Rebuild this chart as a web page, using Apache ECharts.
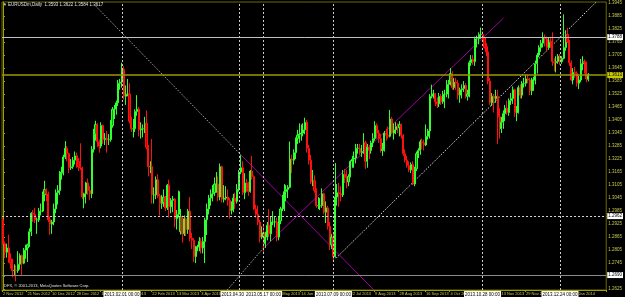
<!DOCTYPE html>
<html><head><meta charset="utf-8">
<script src="https://cdn.jsdelivr.net/npm/echarts@6/dist/echarts.min.js"></script>
<style>html,body{margin:0;padding:0;background:#000;}#c{width:625px;height:297px;}</style>
</head><body><div id="c"></div>
<script>
// EURUSDm Daily, 2 Nov 2012 .. 16 Jan 2014 (one entry per trading day)
const opens = [
1.2945,1.2835,1.2795,1.2815,1.2765,1.2745,1.2710,1.2712,1.2710,1.2740,
1.2780,1.2745,1.2805,1.2815,1.2830,1.2890,1.2975,1.2970,1.2945,1.2945,
1.2985,1.2985,1.3060,1.3085,1.3065,1.2945,1.2925,1.2935,1.2995,1.3070,
1.3080,1.3160,1.3165,1.3235,1.3275,1.3250,1.3185,1.3190,1.3220,1.3240,
1.3215,1.3190,1.3185,1.3050,1.3065,1.3115,1.3080,1.3065,1.3270,1.3340,
1.3385,1.3305,1.3285,1.3380,1.3315,1.3320,1.3315,1.3315,1.3380,1.3455,
1.3455,1.3485,1.3575,1.3580,1.3640,1.3515,1.3525,1.3525,1.3400,1.3365,
1.3365,1.3445,1.3455,1.3360,1.3365,1.3365,1.3390,1.3280,1.3190,1.3190,
1.3060,1.3060,1.3130,1.3055,1.3020,1.3025,1.3050,1.3000,1.3105,1.3005,
1.3035,1.3040,1.2950,1.2970,1.2890,1.2960,1.2880,1.2950,1.2900,1.2985,
1.2860,1.2850,1.2775,1.2820,1.2820,1.2845,1.2815,1.2845,1.2945,1.2995,
1.3045,1.3065,1.3070,1.3110,1.3110,1.3050,1.3190,1.3040,1.3045,1.3050,
1.3035,1.2990,1.2990,1.3045,1.3030,1.3085,1.3165,1.3185,1.3070,1.3115,
1.3090,1.3075,1.3170,1.3145,1.2995,1.2970,1.2935,1.2865,1.2885,1.2835,
1.2865,1.2920,1.2880,1.2935,1.2935,1.2935,1.2865,1.2940,1.2995,1.2995,
1.3075,1.3085,1.3095,1.3225,1.3220,1.3255,1.3320,1.3335,1.3340,1.3345,
1.3360,1.3395,1.3275,1.3220,1.3120,1.3125,1.3080,1.3010,1.3010,1.3010,
1.3065,1.2980,1.3000,1.2915,1.2830,1.2865,1.2775,1.3050,1.3070,1.3065,
1.3060,1.3155,1.3140,1.3120,1.3145,1.3215,1.3225,1.3230,1.3275,1.3275,
1.3255,1.3260,1.3300,1.3215,1.3280,1.3265,1.3300,1.3320,1.3380,1.3345,
1.3320,1.3265,1.3270,1.3345,1.3335,1.3330,1.3410,1.3345,1.3360,1.3375,
1.3370,1.3385,1.3335,1.3250,1.3220,1.3195,1.3175,1.3200,1.3110,1.3180,
1.3250,1.3265,1.3305,1.3300,1.3290,1.3330,1.3355,1.3515,1.3525,1.3525,
1.3490,1.3480,1.3515,1.3490,1.3525,1.3525,1.3570,1.3580,1.3620,1.3555,
1.3580,1.3575,1.3520,1.3545,1.3550,1.3565,1.3515,1.3525,1.3670,1.3685,
1.3675,1.3780,1.3780,1.3800,1.3800,1.3785,1.3740,1.3720,1.3585,1.3485,
1.3515,1.3505,1.3515,1.3420,1.3365,1.3395,1.3435,1.3460,1.3440,1.3495,
1.3505,1.3545,1.3440,1.3440,1.3555,1.3520,1.3575,1.3575,1.3595,1.3590,
1.3540,1.3590,1.3590,1.3665,1.3705,1.3740,1.3760,1.3785,1.3780,1.3740,
1.3770,1.3765,1.3675,1.3670,1.3675,1.3700,1.3675,1.3690,1.3740,1.3800,
1.3765,1.3670,1.3590,1.3625,1.3620,1.3575,1.3590,1.3665,1.3675,1.3670,1.3593];
const highs = [
1.2955,1.2845,1.2835,1.2876,1.2790,1.2765,1.2740,1.2735,1.2800,1.2790,
1.2785,1.2815,1.2830,1.2835,1.2905,1.2980,1.2990,1.3000,1.2955,1.3000,
1.3020,1.3075,1.3125,1.3090,1.3075,1.2960,1.2945,1.3020,1.3085,1.3105,
1.3170,1.3190,1.3245,1.3308,1.3285,1.3255,1.3225,1.3235,1.3260,1.3255,
1.3230,1.3298,1.3190,1.3070,1.3120,1.3135,1.3100,1.3285,1.3365,1.3402,
1.3390,1.3315,1.3395,1.3385,1.3345,1.3355,1.3340,1.3405,1.3465,1.3475,
1.3495,1.3590,1.3595,1.3670,1.3655,1.3565,1.3595,1.3575,1.3420,1.3410,
1.3455,1.3520,1.3465,1.3395,1.3385,1.3420,1.3450,1.3290,1.3215,1.3318,
1.3095,1.3145,1.3155,1.3065,1.3060,1.3085,1.3055,1.3110,1.3130,1.3045,
1.3055,1.3045,1.2990,1.3080,1.2995,1.2965,1.2965,1.2955,1.2995,1.3050,
1.2885,1.2860,1.2825,1.2830,1.2865,1.2860,1.2865,1.2955,1.3020,1.3060,
1.3085,1.3105,1.3140,1.3165,1.3145,1.3205,1.3195,1.3105,1.3100,1.3085,
1.3045,1.3030,1.3065,1.3070,1.3110,1.3175,1.3243,1.3215,1.3160,1.3135,
1.3120,1.3175,1.3240,1.3150,1.3015,1.3010,1.2945,1.2915,1.2920,1.2890,
1.2935,1.2995,1.2960,1.2985,1.2960,1.2955,1.2960,1.3005,1.3060,1.3110,
1.3105,1.3105,1.3306,1.3245,1.3270,1.3325,1.3360,1.3390,1.3385,1.3390,
1.3416,1.3405,1.3290,1.3245,1.3175,1.3150,1.3090,1.3050,1.3045,1.3090,
1.3070,1.3030,1.3010,1.2935,1.2880,1.2880,1.3207,1.3110,1.3115,1.3100,
1.3175,1.3180,1.3175,1.3155,1.3220,1.3240,1.3260,1.3295,1.3295,1.3295,
1.3290,1.3345,1.3310,1.3295,1.3290,1.3310,1.3345,1.3400,1.3390,1.3360,
1.3340,1.3300,1.3355,1.3365,1.3375,1.3452,1.3420,1.3390,1.3395,1.3390,
1.3400,1.3390,1.3340,1.3270,1.3240,1.3215,1.3210,1.3215,1.3190,1.3260,
1.3275,1.3315,1.3320,1.3315,1.3385,1.3365,1.3525,1.3568,1.3545,1.3530,
1.3510,1.3530,1.3525,1.3540,1.3545,1.3590,1.3590,1.3645,1.3630,1.3600,
1.3600,1.3590,1.3555,1.3570,1.3585,1.3575,1.3545,1.3680,1.3705,1.3705,
1.3790,1.3795,1.3810,1.3832,1.3815,1.3790,1.3760,1.3745,1.3600,1.3530,
1.3525,1.3545,1.3545,1.3460,1.3420,1.3450,1.3475,1.3495,1.3505,1.3530,
1.3560,1.3550,1.3470,1.3565,1.3570,1.3585,1.3600,1.3615,1.3615,1.3600,
1.3600,1.3605,1.3680,1.3715,1.3750,1.3775,1.3810,1.3800,1.3790,1.3785,
1.3790,1.3810,1.3690,1.3700,1.3710,1.3710,1.3700,1.3893,1.3820,1.3830,
1.3775,1.3680,1.3645,1.3650,1.3630,1.3610,1.3687,1.3700,1.3685,1.3675,1.3622];
const lows = [
1.2830,1.2768,1.2770,1.2747,1.2720,1.2680,1.2685,1.2661,1.2700,1.2715,
1.2690,1.2740,1.2765,1.2750,1.2820,1.2870,1.2935,1.2930,1.2880,1.2935,
1.2965,1.2980,1.3030,1.3030,1.2935,1.2876,1.2880,1.2920,1.2975,1.3015,
1.3060,1.3130,1.3150,1.3225,1.3215,1.3160,1.3175,1.3180,1.3200,1.3185,
1.3170,1.3175,1.3040,1.2998,1.3020,1.3060,1.3035,1.3045,1.3255,1.3310,
1.3280,1.3255,1.3275,1.3295,1.3290,1.3255,1.3290,1.3305,1.3370,1.3410,
1.3430,1.3470,1.3545,1.3555,1.3500,1.3475,1.3515,1.3390,1.3350,1.3325,
1.3350,1.3425,1.3330,1.3320,1.3325,1.3345,1.3270,1.3145,1.3160,1.3020,
1.3020,1.3040,1.3045,1.2965,1.2995,1.3005,1.2985,1.2990,1.2955,1.2975,
1.2980,1.2910,1.2900,1.2955,1.2877,1.2840,1.2870,1.2870,1.2880,1.2845,
1.2810,1.2750,1.2745,1.2800,1.2800,1.2790,1.2790,1.2745,1.2875,1.2970,
1.3010,1.3030,1.3055,1.3070,1.3030,1.3035,1.3025,1.3025,1.3035,1.3010,
1.2950,1.2970,1.2980,1.2995,1.3020,1.3075,1.3155,1.3060,1.3040,1.3075,
1.3055,1.3070,1.3130,1.2990,1.2955,1.2920,1.2840,1.2855,1.2797,1.2815,
1.2850,1.2865,1.2845,1.2920,1.2910,1.2845,1.2850,1.2925,1.2985,1.2985,
1.3030,1.3045,1.3090,1.3160,1.3200,1.3225,1.3295,1.3300,1.3310,1.3330,
1.3340,1.3255,1.3200,1.3110,1.3100,1.3070,1.3000,1.2995,1.2990,1.3000,
1.2970,1.2930,1.2900,1.2805,1.2810,1.2755,1.2770,1.3010,1.3005,1.3030,
1.3050,1.3115,1.3090,1.3100,1.3140,1.3185,1.3185,1.3205,1.3250,1.3245,
1.3235,1.3250,1.3180,1.3185,1.3225,1.3250,1.3280,1.3310,1.3320,1.3300,
1.3255,1.3240,1.3260,1.3310,1.3320,1.3325,1.3340,1.3315,1.3340,1.3345,
1.3330,1.3320,1.3240,1.3210,1.3185,1.3165,1.3160,1.3105,1.3100,1.3170,
1.3230,1.3245,1.3270,1.3265,1.3285,1.3315,1.3320,1.3505,1.3505,1.3470,
1.3460,1.3465,1.3475,1.3480,1.3460,1.3510,1.3505,1.3565,1.3545,1.3545,
1.3545,1.3500,1.3485,1.3505,1.3535,1.3505,1.3495,1.3510,1.3655,1.3660,
1.3655,1.3740,1.3755,1.3780,1.3775,1.3735,1.3700,1.3570,1.3475,1.3470,
1.3440,1.3485,1.3295,1.3320,1.3345,1.3365,1.3400,1.3430,1.3425,1.3475,
1.3480,1.3420,1.3400,1.3435,1.3505,1.3505,1.3555,1.3560,1.3575,1.3520,
1.3520,1.3540,1.3570,1.3620,1.3695,1.3720,1.3740,1.3745,1.3720,1.3730,
1.3740,1.3655,1.3630,1.3625,1.3665,1.3660,1.3665,1.3685,1.3725,1.3760,
1.3655,1.3585,1.3570,1.3600,1.3560,1.3548,1.3580,1.3635,1.3620,1.3580,1.3584];
const closes = [
1.2835,1.2795,1.2815,1.2765,1.2745,1.2710,1.2712,1.2710,1.2740,1.2780,
1.2745,1.2805,1.2815,1.2830,1.2890,1.2975,1.2970,1.2945,1.2945,1.2985,
1.2985,1.3060,1.3085,1.3065,1.2945,1.2925,1.2935,1.2995,1.3070,1.3080,
1.3160,1.3165,1.3235,1.3275,1.3250,1.3185,1.3190,1.3220,1.3240,1.3215,
1.3190,1.3185,1.3050,1.3065,1.3115,1.3080,1.3065,1.3270,1.3340,1.3385,
1.3305,1.3285,1.3380,1.3315,1.3320,1.3315,1.3315,1.3380,1.3455,1.3455,
1.3485,1.3575,1.3580,1.3640,1.3515,1.3525,1.3525,1.3400,1.3365,1.3365,
1.3445,1.3455,1.3360,1.3365,1.3365,1.3390,1.3280,1.3190,1.3190,1.3060,
1.3060,1.3130,1.3055,1.3020,1.3025,1.3050,1.3000,1.3105,1.3005,1.3035,
1.3040,1.2950,1.2970,1.3075,1.2960,1.2880,1.2950,1.2900,1.2985,1.2860,
1.2850,1.2775,1.2820,1.2820,1.2845,1.2815,1.2845,1.2945,1.2995,1.3045,
1.3065,1.3070,1.3110,1.3110,1.3050,1.3190,1.3040,1.3045,1.3050,1.3035,
1.2990,1.2990,1.3045,1.3030,1.3085,1.3165,1.3185,1.3070,1.3115,1.3090,
1.3075,1.3170,1.3145,1.2995,1.2970,1.2935,1.2865,1.2885,1.2835,1.2865,
1.2920,1.2880,1.2935,1.2935,1.2935,1.2865,1.2940,1.2995,1.2995,1.3075,
1.3085,1.3095,1.3225,1.3220,1.3255,1.3320,1.3335,1.3340,1.3345,1.3360,
1.3395,1.3275,1.3220,1.3120,1.3125,1.3080,1.3010,1.3010,1.3010,1.3065,
1.2980,1.3000,1.2915,1.2830,1.2865,1.2775,1.3050,1.3070,1.3065,1.3060,
1.3155,1.3140,1.3120,1.3145,1.3215,1.3225,1.3230,1.3275,1.3275,1.3255,
1.3260,1.3300,1.3215,1.3280,1.3265,1.3300,1.3320,1.3380,1.3345,1.3320,
1.3265,1.3270,1.3345,1.3335,1.3330,1.3410,1.3345,1.3360,1.3375,1.3370,
1.3385,1.3335,1.3250,1.3220,1.3195,1.3175,1.3200,1.3110,1.3180,1.3250,
1.3265,1.3305,1.3300,1.3290,1.3330,1.3355,1.3515,1.3525,1.3525,1.3490,
1.3480,1.3515,1.3490,1.3525,1.3525,1.3570,1.3580,1.3620,1.3555,1.3580,
1.3575,1.3520,1.3545,1.3550,1.3565,1.3515,1.3525,1.3670,1.3685,1.3675,
1.3780,1.3780,1.3800,1.3800,1.3785,1.3740,1.3720,1.3585,1.3485,1.3515,
1.3505,1.3515,1.3420,1.3365,1.3395,1.3435,1.3460,1.3440,1.3495,1.3505,
1.3545,1.3440,1.3440,1.3555,1.3520,1.3575,1.3575,1.3595,1.3590,1.3540,
1.3590,1.3590,1.3665,1.3705,1.3740,1.3760,1.3785,1.3780,1.3740,1.3770,
1.3765,1.3675,1.3670,1.3675,1.3700,1.3675,1.3690,1.3740,1.3800,1.3765,
1.3670,1.3590,1.3625,1.3620,1.3575,1.3590,1.3665,1.3675,1.3670,1.3595,1.3617];

// price-axis tick labels
const yTicks = [1.3945,1.3885,1.3825,1.3765,1.3705,1.3645,1.3585,1.3525,1.3465,1.3405,1.3345,1.3285,
  1.3225,1.3165,1.3105,1.3045,1.2985,1.2925,1.2865,1.2805,1.2745,1.2685,1.2625];
const yMin = 1.2621, yMax = 1.3950;

// time-axis labels (bar index -> text)
const xLabelIdx = [0,13,26,39,52,65,79,92,105,118,131,145,158,171,184,197,210,224,237,251,264,277,290,303];
const xLabelText = ["2 Nov 2012","21 Nov 2012","10 Dec 2012","28 Dec 2012","16 Jan 2013","4 Feb 2013",
  "22 Feb 2013","13 Mar 2013","3 Apr 2013","22 Apr 2013","10 May 2013","29 May 2013","14 Jun 2013",
  "3 Jul 2013","22 Jul 2013","9 Aug 2013","28 Aug 2013","16 Sep 2013","4 Oct 2013","23 Oct 2013",
  "13 Nov 2013","29 Nov 2013","18 Dec 2013","6 Jan 2014"];

// vertical marker lines (bar index) and their time boxes
const vLineIdx = [63,125,138,175,254,295];
const vLineText = ["2013.02.01 00:00","2013.04.30 00:00","2013.05.17 00:00","2013.07.09 00:00","2013.10.28 00:00","2013.12.24 00:00"];

// horizontal levels
const hLevels = [1.3788, 1.3613, 1.2962, 1.2690];

// trend lines: [[barIndex, price], [barIndex, price]]
const trendGreyDown   = [[47.0,1.3950],[126.2,1.3243]];
const trendPurpleDown = [[126.2,1.3243],[196.4,1.2621]];
const trendGreyUp     = [[118.8,1.2621],[137.8,1.2813]];
const trendPurpleUp   = [[137.8,1.2813],[265.1,1.3876]];
const trendWhiteUp    = [[176.4,1.2768],[314.2,1.3950]];

const TOTAL_SLOTS = 320; // bars + empty right shift

// trading-day categories
const dates = [];
(function(){
  const d = new Date(Date.UTC(2012,10,2));
  while (dates.length < TOTAL_SLOTS) {
    const wd = d.getUTCDay(), m = d.getUTCMonth(), day = d.getUTCDate();
    if (wd !== 0 && wd !== 6 && !((m === 11 && day === 25) || (m === 0 && day === 1))) {
      dates.push(d.getUTCFullYear() + '.' + String(m+1).padStart(2,'0') + '.' + String(day).padStart(2,'0'));
    }
    d.setUTCDate(day + 1);
  }
})();

const candles = opens.map((o,i) => [o, closes[i], lows[i], highs[i]]);
const labelSet = new Set(xLabelIdx);
const FONT = 'Liberation Sans';
const axisCol = '#a0a000';
const txtCol = '#c8c850';

const boxLabel = (txt, bg, pos) => ({
  show: true, position: pos, formatter: txt, color: '#000', backgroundColor: bg,
  fontSize: 4.5, fontFamily: FONT, padding: [1,1,0,1], distance: 1
});

const hStyles = [
  {color:'#c0c0c0', type:'solid', width:1, box:'#ffffff'},
  {color:'#9a9a00', type:'solid', width:1.5, box:'#c8c800'},
  {color:'#d8d8d8', type:[2,2], width:1, box:'#ffffff'},
  {color:'#8a8a8a', type:'solid', width:1, box:'#ffffff'}
];

const markData = [];
hLevels.forEach((v,k) => {
  const s = hStyles[k];
  markData.push({ yAxis: v, lineStyle: {color:s.color, type:s.type, width:s.width, opacity:1},
    label: boxLabel(v.toFixed(4), s.box, 'end') });
});
vLineIdx.forEach((idx,k) => {
  markData.push({ xAxis: dates[idx], lineStyle: {color:'#c8c8c8', type:[2,2], width:1, opacity:1},
    label: boxLabel(vLineText[k], '#ffffff', 'start') });
});

function trend(data, color, type) {
  return { type:'line', xAxisIndex:1, yAxisIndex:0, data: data, showSymbol:false, symbol:'none',
    silent:true, animation:false, z:3, lineStyle:{color:color, width:1, type:type} };
}

const chart = echarts.init(document.getElementById('c'), null, {renderer:'canvas'});
chart.setOption({
  animation: false,
  backgroundColor: '#000',
  grid: { left: 2, right: 17, top: 2, bottom: 7, show: true, borderColor: '#6b6b00', borderWidth: 1, backgroundColor: '#000' },
  xAxis: [{
    type: 'category', data: dates, boundaryGap: true,
    axisLine: { show: true, lineStyle: { color: axisCol } },
    axisTick: { show: true, length: 2, interval: (i) => labelSet.has(i), lineStyle: { color: axisCol } },
    axisLabel: { interval: (i) => labelSet.has(i), formatter: (v, i) => xLabelText[xLabelIdx.indexOf(i)] || '',
      align: 'left', color: txtCol, fontSize: 4, fontFamily: FONT, margin: 1.5, hideOverlap: false },
    splitLine: { show: false }
  }, {
    type: 'value', min: -0.5, max: TOTAL_SLOTS - 0.5, show: false
  }],
  yAxis: [{
    type: 'value', position: 'right', min: yMin, max: yMax,
    axisLine: { show: true, lineStyle: { color: axisCol } },
    axisTick: { show: true, length: 2, customValues: yTicks, lineStyle: { color: axisCol } },
    axisLabel: { customValues: yTicks, formatter: (v) => v.toFixed(4), color: txtCol, fontSize: 4.5,
      fontFamily: FONT, margin: 2 },
    splitLine: { show: false }
  }],
  series: [
    {
      type: 'candlestick', data: candles, barWidth: 1.6, large: false, z: 4,
      itemStyle: { color: '#0c9c0c', color0: '#d00000', borderColor: '#30ff30', borderColor0: '#ff1010',
        borderColorDoji: '#30ff30', borderWidth: 1 },
      markLine: { symbol: ['none','none'], silent: true, animation: false, precision: 4, data: markData }
    },
    trend(trendGreyDown, '#a8a8a8', [1.5,1.5]),
    trend(trendPurpleDown, '#a000a0', 'solid'),
    trend(trendGreyUp, '#a8a8a8', [1.5,1.5]),
    trend(trendPurpleUp, '#a000a0', 'solid'),
    trend(trendWhiteUp, '#d8d8d8', [1.5,1.5])
  ],
  graphic: [
    { type: 'text', left: 3, top: 2.5, style: { text: '▼', fill: '#d0d0d0', fontSize: 4, fontFamily: FONT } },
    { type: 'text', left: 8, top: 2, style: { text: 'EURUSDm,Daily  1.3593 1.3622 1.3584 1.3617', fill: '#e0e0e0', fontSize: 4.5, fontFamily: FONT } },
    { type: 'text', left: 3, top: 284, style: { text: 'IDFX, © 2001-2013, MetaQuotes Software Corp.', fill: '#e0e0e0', fontSize: 4, fontFamily: FONT } }
  ]
});
</script></body></html>
